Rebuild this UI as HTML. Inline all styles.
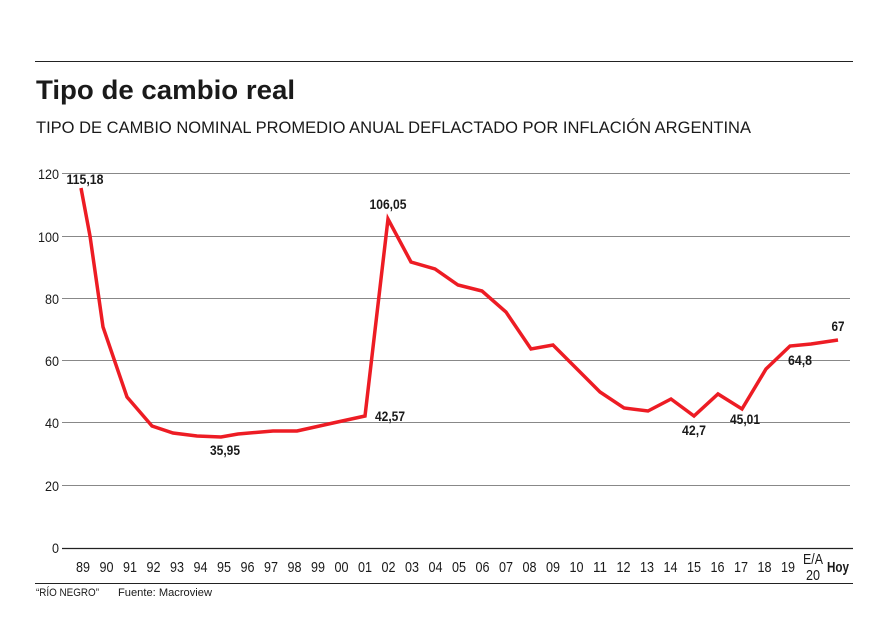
<!DOCTYPE html>
<html><head><meta charset="utf-8"><style>
html,body{margin:0;padding:0;background:#fff;}
svg{display:block;}
text{font-family:"Liberation Sans",sans-serif;fill:#1a1a1a;}
</style></head><body>
<svg width="885" height="633" viewBox="0 0 885 633" xmlns="http://www.w3.org/2000/svg">
<line x1="35" y1="61.5" x2="853" y2="61.5" stroke="#222" stroke-width="1"/>
<text x="36" y="99" font-weight="bold" font-size="27" textLength="259" lengthAdjust="spacingAndGlyphs">Tipo de cambio real</text>
<text x="36" y="133" font-size="17" textLength="715" lengthAdjust="spacingAndGlyphs">TIPO DE CAMBIO NOMINAL PROMEDIO ANUAL DEFLACTADO POR INFLACIÓN ARGENTINA</text>
<g stroke="#888" stroke-width="1">
<line x1="62" y1="173.5" x2="850" y2="173.5"/>
<line x1="62" y1="236.5" x2="850" y2="236.5"/>
<line x1="62" y1="298.5" x2="850" y2="298.5"/>
<line x1="62" y1="360.5" x2="850" y2="360.5"/>
<line x1="62" y1="422.5" x2="850" y2="422.5"/>
<line x1="62" y1="485.5" x2="850" y2="485.5"/>
</g>
<line x1="62" y1="548.5" x2="853" y2="548.5" stroke="#222" stroke-width="1.2"/>
<g font-size="14" text-anchor="end" lengthAdjust="spacingAndGlyphs">
<text x="59" y="179" textLength="21" lengthAdjust="spacingAndGlyphs">120</text>
<text x="59" y="242" textLength="21" lengthAdjust="spacingAndGlyphs">100</text>
<text x="59" y="304" textLength="14" lengthAdjust="spacingAndGlyphs">80</text>
<text x="59" y="366" textLength="14" lengthAdjust="spacingAndGlyphs">60</text>
<text x="59" y="428" textLength="14" lengthAdjust="spacingAndGlyphs">40</text>
<text x="59" y="491" textLength="14" lengthAdjust="spacingAndGlyphs">20</text>
<text x="59" y="553" textLength="7" lengthAdjust="spacingAndGlyphs">0</text>
</g>
<g font-size="15" text-anchor="middle">
<text x="83" y="572" textLength="14" lengthAdjust="spacingAndGlyphs">89</text><text x="106.5" y="572" textLength="14" lengthAdjust="spacingAndGlyphs">90</text><text x="130" y="572" textLength="14" lengthAdjust="spacingAndGlyphs">91</text><text x="153.5" y="572" textLength="14" lengthAdjust="spacingAndGlyphs">92</text>
<text x="177" y="572" textLength="14" lengthAdjust="spacingAndGlyphs">93</text><text x="200.5" y="572" textLength="14" lengthAdjust="spacingAndGlyphs">94</text><text x="224" y="572" textLength="14" lengthAdjust="spacingAndGlyphs">95</text><text x="247.5" y="572" textLength="14" lengthAdjust="spacingAndGlyphs">96</text>
<text x="271" y="572" textLength="14" lengthAdjust="spacingAndGlyphs">97</text><text x="294.5" y="572" textLength="14" lengthAdjust="spacingAndGlyphs">98</text><text x="318" y="572" textLength="14" lengthAdjust="spacingAndGlyphs">99</text><text x="341.5" y="572" textLength="14" lengthAdjust="spacingAndGlyphs">00</text>
<text x="365" y="572" textLength="14" lengthAdjust="spacingAndGlyphs">01</text><text x="388.5" y="572" textLength="14" lengthAdjust="spacingAndGlyphs">02</text><text x="412" y="572" textLength="14" lengthAdjust="spacingAndGlyphs">03</text><text x="435.5" y="572" textLength="14" lengthAdjust="spacingAndGlyphs">04</text>
<text x="459" y="572" textLength="14" lengthAdjust="spacingAndGlyphs">05</text><text x="482.5" y="572" textLength="14" lengthAdjust="spacingAndGlyphs">06</text><text x="506" y="572" textLength="14" lengthAdjust="spacingAndGlyphs">07</text><text x="529.5" y="572" textLength="14" lengthAdjust="spacingAndGlyphs">08</text>
<text x="553" y="572" textLength="14" lengthAdjust="spacingAndGlyphs">09</text><text x="576.5" y="572" textLength="14" lengthAdjust="spacingAndGlyphs">10</text><text x="600" y="572" textLength="14" lengthAdjust="spacingAndGlyphs">11</text><text x="623.5" y="572" textLength="14" lengthAdjust="spacingAndGlyphs">12</text>
<text x="647" y="572" textLength="14" lengthAdjust="spacingAndGlyphs">13</text><text x="670.5" y="572" textLength="14" lengthAdjust="spacingAndGlyphs">14</text><text x="694" y="572" textLength="14" lengthAdjust="spacingAndGlyphs">15</text><text x="717.5" y="572" textLength="14" lengthAdjust="spacingAndGlyphs">16</text>
<text x="741" y="572" textLength="14" lengthAdjust="spacingAndGlyphs">17</text><text x="764.5" y="572" textLength="14" lengthAdjust="spacingAndGlyphs">18</text><text x="788" y="572" textLength="14" lengthAdjust="spacingAndGlyphs">19</text>
<text x="813" y="564" textLength="20" lengthAdjust="spacingAndGlyphs">E/A</text><text x="813" y="580" textLength="14" lengthAdjust="spacingAndGlyphs">20</text>
<text x="838" y="572" font-weight="bold" textLength="22" lengthAdjust="spacingAndGlyphs">Hoy</text>
</g>
<line x1="35" y1="583.5" x2="853" y2="583.5" stroke="#222" stroke-width="1"/>
<text x="36" y="596" font-size="11" textLength="63" lengthAdjust="spacingAndGlyphs">“RÍO NEGRO”</text>
<text x="118" y="596" font-size="11" textLength="94" lengthAdjust="spacingAndGlyphs">Fuente: Macroview</text>
<polyline fill="none" stroke="#ed1c24" stroke-width="3.5" stroke-linejoin="miter" points="81,188 90,236 103,327 127,397 152,426 173,433 197,436 221,437 238,434 273,431 297,431 333,423 365,416 388,219 411,262 435,269 458,285 482,291 506,312 531,349 553,345 577,369 600,392 624,408 648,411 671,399 694,416 718,394 742,409 766,369 790,346 811,344 838,340"/>
<g font-size="14" font-weight="bold" text-anchor="middle">
<text x="85" y="184" textLength="37" lengthAdjust="spacingAndGlyphs">115,18</text>
<text x="388" y="209" textLength="37" lengthAdjust="spacingAndGlyphs">106,05</text>
<text x="390" y="421" textLength="30" lengthAdjust="spacingAndGlyphs">42,57</text>
<text x="225" y="455" textLength="30" lengthAdjust="spacingAndGlyphs">35,95</text>
<text x="694" y="435" textLength="24" lengthAdjust="spacingAndGlyphs">42,7</text>
<text x="745" y="424" textLength="30" lengthAdjust="spacingAndGlyphs">45,01</text>
<text x="800" y="365" textLength="24" lengthAdjust="spacingAndGlyphs">64,8</text>
<text x="838" y="331" textLength="13" lengthAdjust="spacingAndGlyphs">67</text>
</g>
</svg>
</body></html>
